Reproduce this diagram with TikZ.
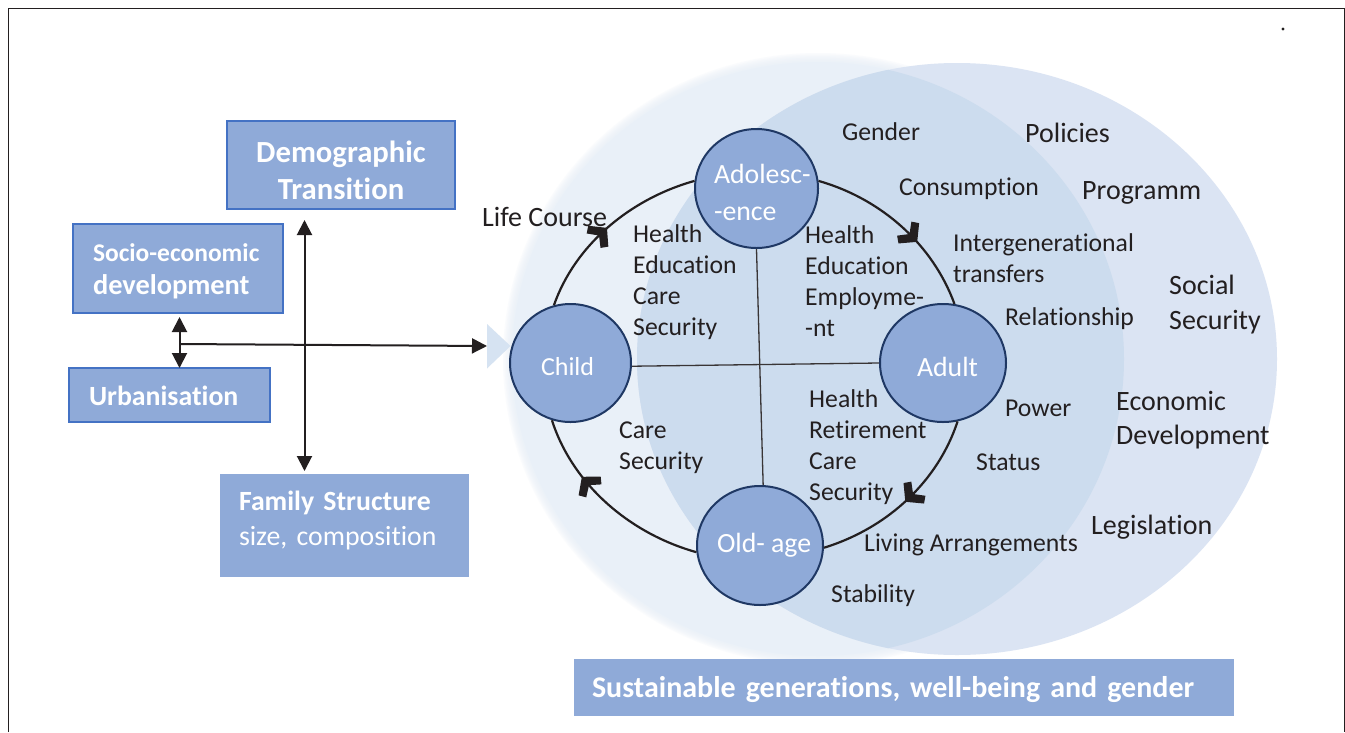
\documentclass[tikz,border=0pt]{standalone}
\usepackage{fontspec}
\setmainfont{Carlito}[Ligatures=NoCommon]
\usetikzlibrary{arrows.meta,shapes.geometric,decorations.markings}
\definecolor{ink}{HTML}{231F20}
\definecolor{boxfill}{HTML}{8FAAD8}
\definecolor{boxline}{HTML}{4472C4}
\definecolor{navy}{HTML}{1F3864}
\definecolor{discA}{HTML}{E9F0F8}
\definecolor{discB}{HTML}{DBE4F3}
\definecolor{discAB}{HTML}{CCDCEE}
\definecolor{triangleblue}{HTML}{D6E3F2}
\newcommand{\stageline}[2]{\makebox[0pt][l]{\hspace*{#1pt}#2}}
\tikzset{
  lbl/.style={anchor=north west,inner sep=0pt,align=left,text=ink,font=\fontsize{25.7}{31}\selectfont,
    execute at begin node={\rule{0pt}{20pt}}},
  lblbig/.style={lbl,font=\fontsize{28}{34.5}\selectfont},
  stage/.style={ellipse,draw=navy,fill=boxfill,line width=2pt,inner sep=0pt,text=white,align=left,
    font=\fontsize{27.8}{34}\selectfont},
  bluebox/.style={rectangle,draw=boxline,fill=boxfill,line width=2pt,text=white,align=left,inner sep=0pt,
    font=\fontsize{27.8}{35}\selectfont\bfseries},
  plainbox/.style={bluebox,draw=none},
  arc/.style={draw=ink,line width=2.2pt},
  spoke/.style={draw=ink!90,line width=1.3pt},
  flow/.style={draw=ink,line width=2pt,-{Triangle[length=15pt,width=15pt]}},
  flowboth/.style={draw=ink,line width=2pt,{Triangle[length=15pt,width=15pt]}-{Triangle[length=15pt,width=15pt]}},
  chev/.style={postaction={decorate,decoration={markings,mark=at position #1 with {
    \fill[ink] (9,0)--(-3,14.5)--(-9.5,10)--(-2,0)--(-9.5,-10)--(-3,-14.5)--cycle;}}}}
}
\begin{document}
\begin{tikzpicture}[x=1pt,y=-1pt]
\useasboundingbox (0,0) rectangle (1345,732);
\fill[white] (0,0) rectangle (1345,732);
\draw[ink,line width=1pt] (8,732) -- (8,8) -- (1344,8) -- (1344,732);
\fill[ink] (1283,29) circle (1.6);
% discs
\foreach \k in {1,2,3,4,5,6}{
  \fill[discA,opacity=.22] (818,359) ellipse [x radius={306+\k*1.5}, y radius={297+\k*1.5}];
}
\fill[discA] (818,359) ellipse [x radius=306, y radius=297];
\fill[discB] (957,359) ellipse [x radius=320, y radius=296];
\begin{scope}
  \clip (818,359) ellipse [x radius=306, y radius=297];
  \fill[discAB] (957,359) ellipse [x radius=320, y radius=296];
\end{scope}
\fill[triangleblue] (487,324) -- (510.5,346) -- (487,368.5) -- cycle;
% boxes
\node[bluebox,minimum width=228,minimum height=88,align=center,font=\fontsize{30.7}{37}\selectfont\bfseries] (dem) at (341,165) {\rule{0pt}{32pt}Demographic\\Transition};
\node[bluebox,minimum width=210,minimum height=89,inner xsep=20pt,text width=170pt,font=\fontsize{25.5}{33}\selectfont\bfseries] (soc) at (178,268.5) {\rule{0pt}{24pt}Socio-economic\\{\fontsize{28.4}{33}\selectfont development}};
\node[bluebox,minimum width=201,minimum height=54,inner xsep=20pt,text width=161pt] (urb) at (169.5,395) {\rule{0pt}{22pt}Urbanisation};
\node[plainbox,minimum width=249,minimum height=103,inner xsep=19pt,text width=211pt] (fam) at (344.5,525.5) {Family Structure\\{\normalfont size, composition}\rule[-14pt]{0pt}{14pt}};
\node[plainbox,minimum width=660,minimum height=57,inner xsep=18pt,text width=624pt,font=\fontsize{30}{34}\selectfont\bfseries] (ban) at (904,687.5) {\rule{0pt}{26pt}Sustainable generations, well-being and gender};
% stages
\node[stage,minimum width=121,minimum height=118,font=\fontsize{26}{30}\selectfont] (child) at (570.5,363) {\rule{0pt}{26pt}\stageline{-29.5}{Child}};
\node[stage,minimum width=123,minimum height=119] (adol) at (756.5,188.5) {\rule{0pt}{27pt}\stageline{-42.5}{Adolesc-}\\[3pt]\stageline{-42.5}{-ence}};
\node[stage,minimum width=126,minimum height=118] (adult) at (943,363) {\rule{0pt}{28pt}\stageline{-26}{Adult}};
\node[stage,minimum width=126,minimum height=119] (old) at (760,545.5) {\rule[-5pt]{0pt}{21pt}\stageline{-43}{Old- age}};
% connectors
\coordinate (vt) at (304.5,220);
\coordinate (vb) at (304.5,471);
\coordinate (st) at (179.5,317);
\coordinate (ut) at (179.5,368);
\coordinate (hub) at (179.5,344);
\coordinate (tri) at (487,346);
\draw[flowboth] (vt) -- (vb);
\draw[flowboth] (st) -- (ut);
\draw[flow] (hub) -- (tri);
\draw[spoke] (child.-3) -- (adult.west);
\draw[spoke] (adol.south) -- (old.87);
\path[arc,chev=.44] (child.106) .. controls (575,245) and (630,199) .. (adol.173);
\path[arc,chev=.57] (adol.7) .. controls (882,199) and (933,245) .. (adult.79);
\path[arc,chev=.46] (adult.-76) .. controls (938,481) and (888,528) .. (old.-2);
\path[arc,chev=.64] (old.186) .. controls (628,533) and (572,483) .. (child.-108);
% labels
\node[lbl] (lifecourse) at (482,206) {\fontsize{28}{31}\selectfont Life Course};
\node[lbl] (hA) at (633,224) {Health\\Education\\Care\\Security};
\node[lbl] (hB) at (805,225) {Health\\Education\\Employme-\\-nt};
\node[lbl] (hC) at (809,389) {Health\\Retirement\\Care\\Security};
\node[lbl] (hD) at (619,422) {Care\\Security};
\node[lbl] (gender) at (842,120) {Gender};
\node[lbl] (cons) at (899,175) {Consumption};
\node[lbl] (inter) at (953,233) {Intergenerational\\transfers};
\node[lbl] (rel) at (1005,305) {Relationship};
\node[lbl] (power) at (1005,396) {Power};
\node[lbl] (status) at (976,450) {Status};
\node[lbl] (living) at (864,531) {Living Arrangements};
\node[lbl] (stab) at (831,582) {Stability};
\node[lblbig] (pol) at (1025,122) {Policies};
\node[lblbig] (prog) at (1082,179) {Programm};
\node[lblbig] (soci) at (1169,275) {Social\\Security};
\node[lblbig] (econ) at (1116,391) {Economic\\Development};
\node[lblbig] (legi) at (1091,514) {Legislation};
\end{tikzpicture}
\end{document}
